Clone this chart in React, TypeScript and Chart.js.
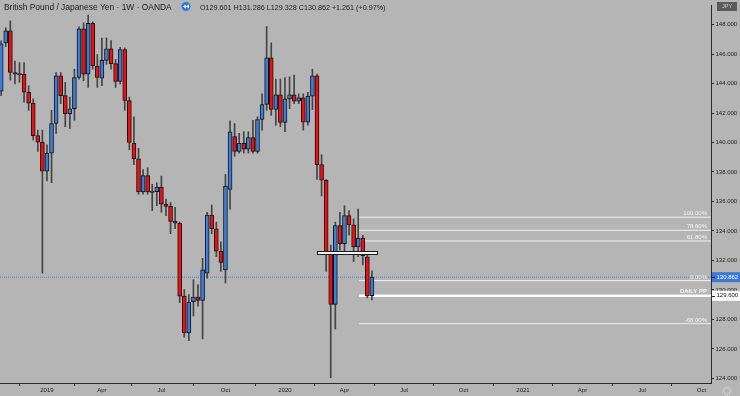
import React, { useEffect, useRef } from "react";
import { Chart, registerables } from "chart.js";

Chart.register(...registerables);

// Weekly candles; week index counted from the week of 2018-12-31
const firstWeek = -9;
const opens = [
  143.48, 146.76, 147.58, 144.75, 144.68, 144.64, 143.41, 142.67, 140.47, 140.02,
  138.06, 139.28, 141.29, 144.52, 143.18, 141.96, 142.29, 144.41, 147.71, 144.64,
  148.09, 145.19, 144.37, 145.57, 146.35, 145.35, 144.15, 146.31, 142.85, 139.95,
  138.9, 136.65, 137.76, 136.7, 136.67, 136.98, 135.82, 135.67, 134.66, 134.53,
  129.58, 127.08, 129.2, 129.51, 129.29, 131.14, 135.08, 134.15, 132.63, 131.36,
  136.82, 140.4, 139.39, 139.95, 139.55, 140.33, 139.39, 141.56, 142.58, 145.75,
  142.25, 143.23, 141.36, 142.96, 143.23, 142.8, 143.03, 141.38, 143.14, 144.52,
  138.5, 137.45, 132.41, 129.02, 134.37, 133.14, 135.04, 134.41, 132.92, 133.52,
  132.25, 129.601,
];
const highs = [
  146.9, 147.78, 148.25, 145.53, 145.42, 145.42, 143.85, 142.96, 140.84, 140.84,
  139.84, 142.18, 144.75, 144.75, 144.08, 143.08, 144.97, 147.85, 148.12, 148.65,
  148.18, 145.97, 147.09, 147.09, 146.91, 145.64, 146.46, 146.42, 143.08, 141.74,
  139.61, 138.16, 138.28, 137.16, 137.27, 137.72, 136.16, 135.93, 135.6, 134.6,
  130.02, 129.69, 130.69, 130.36, 132.14, 135.27, 135.76, 134.6, 133.26, 137.83,
  141.47, 141.29, 140.62, 140.73, 140.73, 141.51, 141.74, 143.3, 147.87, 146.76,
  144.3, 144.3, 144.41, 144.45, 144.57, 143.3, 143.3, 143.41, 144.97, 144.64,
  139.17, 137.49, 133.04, 134.6, 135.27, 135.71, 135.38, 134.82, 135.49, 133.7,
  132.59, 131.286,
];
const lows = [
  143.18, 146.5, 144.23, 143.97, 144.08, 142.74, 142.18, 140.17, 139.39, 131.14,
  137.39, 137.27, 140.62, 142.63, 141.07, 140.95, 141.51, 144.3, 144.19, 143.74,
  144.97, 143.74, 143.85, 145.3, 144.97, 143.74, 143.97, 142.18, 139.5, 138.5,
  136.49, 136.49, 136.49, 135.38, 135.71, 135.27, 135.04, 133.81, 134.15, 129.13,
  126.79, 126.56, 128.23, 128.9, 126.68, 130.8, 133.81, 132.25, 131.25, 130.47,
  135.48, 139.06, 139.28, 139.28, 139.28, 139.28, 139.28, 140.84, 142.18, 141.84,
  141.17, 141.07, 140.73, 142.29, 142.63, 142.63, 140.84, 141.17, 142.23, 137.49,
  136.38, 131.25, 124.04, 127.35, 132.7, 132.59, 133.71, 131.92, 132.25, 131.7,
  129.46, 129.328,
];
const closes = [
  146.69, 147.58, 144.75, 144.64, 144.6, 143.41, 142.67, 140.47, 140.02, 138.06,
  139.28, 141.29, 144.52, 143.18, 141.96, 142.29, 144.41, 147.71, 144.64, 148.09,
  145.19, 144.41, 145.57, 146.35, 145.35, 144.15, 146.31, 142.85, 140.0, 138.9,
  136.65, 137.76, 136.65, 136.62, 136.98, 135.82, 135.67, 134.64, 134.53, 129.58,
  127.08, 129.17, 129.51, 129.29, 131.36, 135.08, 134.15, 132.63, 131.87, 137.05,
  140.73, 139.39, 139.95, 139.55, 140.33, 139.39, 141.56, 142.58, 145.75, 142.25,
  143.23, 141.36, 142.96, 143.23, 142.8, 143.03, 141.38, 143.14, 144.52, 138.5,
  137.45, 132.41, 129.02, 134.37, 133.14, 135.04, 134.41, 132.92, 133.52, 132.32,
  129.6, 130.862,
];

const tickWeeks = [1, 13, 26, 40, 53, 66, 79, 92, 105, 118, 131, 144];
const tickLabels = ["2019", "Apr", "Jul", "Oct", "2020", "Apr", "Jul", "Oct", "2021", "Apr", "Jul", "Oct"];
const priceTicks = [124, 126, 128, 130, 132, 134, 136, 138, 140, 142, 144, 146, 148];

const fibLevels = [134.93, 134.04, 133.32, 130.63, 127.71];
const fibLabels = ["100.00%", "78.60%", "61.80%", "0.00%", "-68.00%"];
const fibStartWeek = 69.2;
const pivotLevel = 129.6;
const pivotLabel = "DAILY PP";
const boxWeeks = [60, 73];
const boxLevel = 132.48;
const lastPrice = 130.862;

const titleText = "British Pound / Japanese Yen \u00b7 1W \u00b7 OANDA";
const ohlcText = "O129.601 H131.286 L129.328 C130.862 +1.261 (+0.97%)";

const X_MIN = -9.26;
const X_MAX = 146.08;
const Y_MIN = 123.685;
const Y_MAX = 149.32;

const FONT = "'Liberation Sans', Arial, sans-serif";
const BG = "#b5b5b5";
const UP = "#3c7ddb";
const DOWN = "#f20f0f";

function fitFont(ctx: CanvasRenderingContext2D, text: string, width: number) {
  ctx.font = `10px ${FONT}`;
  const w = ctx.measureText(text).width;
  const size = (10 * width) / w;
  ctx.font = `${size}px ${FONT}`;
}

const decorPlugin = {
  id: "decor",
  beforeDraw(chart: any) {
    const ctx = chart.ctx;
    ctx.save();
    ctx.fillStyle = BG;
    ctx.fillRect(0, 0, chart.width, chart.height);
    ctx.restore();
  },
  afterDatasetsDraw(chart: any) {
    const ctx: CanvasRenderingContext2D = chart.ctx;
    const xs = chart.scales.x;
    const ys = chart.scales.y;
    ctx.save();
    // horizontal rectangle drawing
    const bx0 = Math.round(xs.getPixelForValue(boxWeeks[0]));
    const bx1 = Math.round(xs.getPixelForValue(boxWeeks[1]));
    const by = Math.round(ys.getPixelForValue(boxLevel));
    ctx.fillStyle = "#f4f4f4";
    ctx.fillRect(bx0, by - 1, bx1 - bx0, 2);
    ctx.strokeStyle = "#1a1a1a";
    ctx.lineWidth = 1;
    ctx.strokeRect(bx0 + 0.5, by - 1.5, bx1 - bx0, 3);

    // fib labels
    ctx.font = `6px ${FONT}`;
    ctx.textAlign = "right";
    ctx.textBaseline = "alphabetic";
    const rx = xs.right - 4;
    fibLevels.forEach((lvl, i) => {
      const y = ys.getPixelForValue(lvl);
      ctx.fillStyle = "#f4f4f4";
      ctx.fillText(fibLabels[i], rx, y - 2);
    });
    const py = ys.getPixelForValue(pivotLevel);
    ctx.font = `bold 6px ${FONT}`;
    ctx.fillStyle = "#f8f8f8";
    ctx.fillText(pivotLabel, rx, py - 2.5);
    ctx.restore();
  },
  afterDraw(chart: any) {
    const ctx: CanvasRenderingContext2D = chart.ctx;
    const ys = chart.scales.y;
    const area = chart.chartArea;
    ctx.save();
    // header
    ctx.textAlign = "left";
    ctx.textBaseline = "alphabetic";
    ctx.fillStyle = "#1c1c1c";
    fitFont(ctx, titleText, 168);
    ctx.fillText(titleText, 4, 9.5);
    fitFont(ctx, ohlcText, 186);
    ctx.fillText(ohlcText, 200, 9.5);
    // rewind icon
    ctx.fillStyle = "#2f7de0";
    ctx.beginPath();
    ctx.arc(186, 6.5, 4.6, 0, Math.PI * 2);
    ctx.fill();
    ctx.fillStyle = "#ffffff";
    [[184.6, 6.5], [187.8, 6.5]].forEach(([cx, cy]) => {
      ctx.beginPath();
      ctx.moveTo(cx - 1.8, cy);
      ctx.lineTo(cx + 1.2, cy - 2);
      ctx.lineTo(cx + 1.2, cy + 2);
      ctx.closePath();
      ctx.fill();
    });

    // price boxes on the axis
    const lx = area.right;
    const boxes = [
      { v: pivotLevel, bg: "#ffffff", fg: "#111111" },
      { v: lastPrice, bg: "#3b78d8", fg: "#ffffff" },
    ];
    boxes.forEach((b) => {
      const y = ys.getPixelForValue(b.v);
      ctx.fillStyle = b.bg;
      ctx.fillRect(lx + 1, y - 5, chart.width - lx - 1, 10);
      ctx.strokeStyle = "#2a2a2a";
      ctx.beginPath();
      ctx.moveTo(lx + 1, Math.round(y) + 0.5);
      ctx.lineTo(lx + 4, Math.round(y) + 0.5);
      ctx.stroke();
      ctx.fillStyle = b.fg;
      ctx.font = `6px ${FONT}`;
      ctx.textBaseline = "middle";
      ctx.textAlign = "left";
      ctx.fillText(b.v.toFixed(3), lx + 5.5, y);
    });

    // JPY box
    ctx.fillStyle = "#5a5a5a";
    ctx.fillRect(717, 2, 20, 9);
    ctx.fillStyle = "#cfcfcf";
    ctx.font = `5.5px ${FONT}`;
    ctx.textAlign = "center";
    ctx.textBaseline = "middle";
    ctx.fillText("JPY", 727, 6.8);

    // settings gear
    ctx.strokeStyle = "#d2d2d2";
    ctx.lineWidth = 1;
    ctx.beginPath();
    ctx.arc(727, 391, 3.2, 0, Math.PI * 2);
    ctx.stroke();
    ctx.setLineDash([1, 1]);
    ctx.beginPath();
    ctx.arc(727, 391, 4.6, 0, Math.PI * 2);
    ctx.stroke();
    ctx.restore();
  },
};

export default function App() {
  const ref = useRef<HTMLCanvasElement | null>(null);
  useEffect(() => {
    if (!ref.current) return;
    const wickData = opens.map((o, i) => ({ x: firstWeek + i, y: [lows[i], highs[i]] }));
    const bodyData = opens.map((o, i) => ({ x: firstWeek + i, y: [o, closes[i]] }));
    const bodyColors = opens.map((o, i) => (closes[i] >= o ? UP : DOWN));

    const fibSets = fibLevels.map((lvl) => ({
      type: "line" as const,
      data: [
        { x: fibStartWeek, y: lvl },
        { x: X_MAX, y: lvl },
      ],
      borderColor: "#f0f0f0",
      borderWidth: 1,
      pointRadius: 0,
      order: 3,
    }));

    const chart = new Chart(ref.current, {
      type: "bar",
      data: {
        datasets: [
          {
            type: "bar",
            data: bodyData as any,
            backgroundColor: bodyColors,
            borderColor: "#151515",
            borderWidth: 1,
            borderSkipped: false,
            barThickness: 4,
            grouped: false,
            order: 0,
          } as any,
          {
            type: "bar",
            data: wickData as any,
            backgroundColor: "#444444",
            borderWidth: 0,
            barThickness: 1,
            grouped: false,
            order: 1,
          } as any,
          ...fibSets,
          {
            type: "line",
            data: [
              { x: fibStartWeek, y: pivotLevel },
              { x: X_MAX, y: pivotLevel },
            ],
            borderColor: "#fbfbfb",
            borderWidth: 2.5,
            pointRadius: 0,
            order: 2,
          },
          {
            type: "line",
            data: [
              { x: X_MIN, y: lastPrice },
              { x: X_MAX, y: lastPrice },
            ],
            borderColor: "rgba(60,120,225,0.85)",
            borderWidth: 1,
            borderDash: [1, 1],
            pointRadius: 0,
            order: 4,
          },
        ],
      },
      options: {
        animation: false,
        responsive: false,
        maintainAspectRatio: false,
        layout: { padding: 0 },
        plugins: { legend: { display: false }, tooltip: { enabled: false } },
        scales: {
          x: {
            type: "linear",
            min: X_MIN,
            max: X_MAX,
            offset: false,
            grid: { drawOnChartArea: false, drawTicks: true, tickLength: 3, color: "#2a2a2a" },
            border: { display: true, color: "#2a2a2a", width: 1 },
            ticks: {
              autoSkip: false,
              maxRotation: 0,
              padding: 1,
              color: "#1c1c1c",
              font: { size: 6, family: FONT },
              callback: (v: any) => {
                const idx = tickWeeks.indexOf(Number(v));
                return idx >= 0 ? tickLabels[idx] : "";
              },
            },
            afterBuildTicks: (s: any) => {
              s.ticks = tickWeeks.map((v) => ({ value: v }));
            },
            afterFit: (s: any) => {
              s.height = 13;
            },
          },
          y: {
            type: "linear",
            position: "right",
            min: Y_MIN,
            max: Y_MAX,
            grid: { drawOnChartArea: false, drawTicks: true, tickLength: 3, color: "#2a2a2a" },
            border: { display: true, color: "#2a2a2a", width: 1 },
            ticks: {
              padding: 1.5,
              color: "#1c1c1c",
              font: { size: 6, family: FONT },
              callback: (v: any) => Number(v).toFixed(3),
            },
            afterBuildTicks: (s: any) => {
              s.ticks = priceTicks.map((v) => ({ value: v }));
            },
            afterFit: (s: any) => {
              s.width = 29;
            },
          },
        },
      } as any,
      plugins: [decorPlugin],
    });
    return () => chart.destroy();
  }, []);

  return (
    <div style={{ position: "fixed", left: 0, top: 0, width: 740, height: 396, background: BG }}>
      <canvas ref={ref} width={740} height={396} style={{ display: "block", width: 740, height: 396 }} />
    </div>
  );
}
